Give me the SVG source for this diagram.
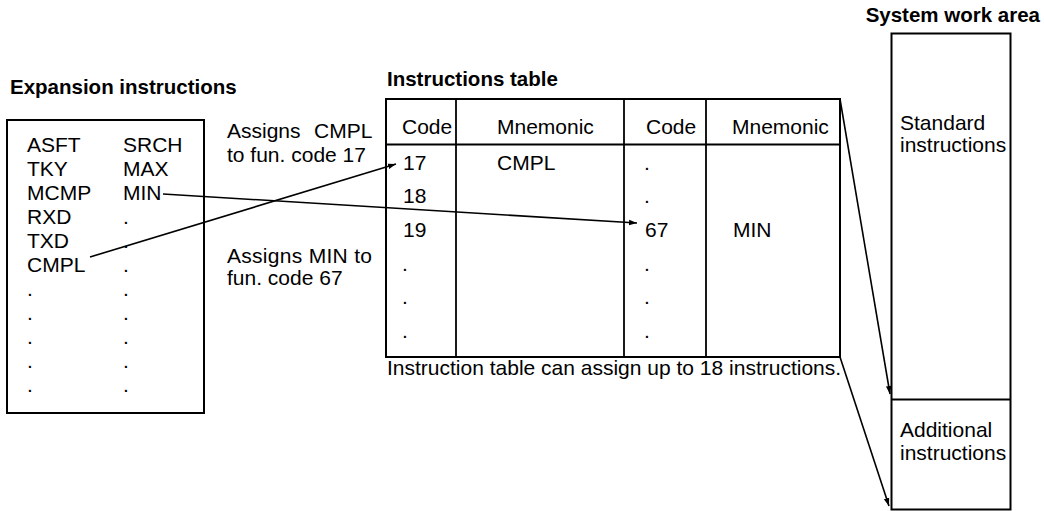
<svg xmlns="http://www.w3.org/2000/svg" width="1044" height="511" viewBox="0 0 1044 511">
<style>
text{font-family:"Liberation Sans",Arial,Helvetica,sans-serif;font-size:21px;fill:#000}
.t{font-weight:bold;font-size:20.5px}
.box{fill:#fff;stroke:#000;stroke-width:2}
.ln{fill:none;stroke:#000;stroke-width:1.8}
.con{fill:none;stroke:#000;stroke-width:1.6;marker-end:url(#ah)}
</style>
<defs>
<marker id="ah" viewBox="0 0 10 10" refX="10" refY="5" markerWidth="8" markerHeight="8" markerUnits="userSpaceOnUse" orient="auto">
<path d="M0,1.5 L10,5 L0,8.5 Z" fill="#000"/>
</marker>
</defs>
<rect width="1044" height="511" fill="#fff"/>

<g id="expansion">
<text class="t" x="10" y="94">Expansion instructions</text>
<rect class="box" x="7" y="120" width="197" height="293"/>
<text x="27" y="152">ASFT</text><text x="123" y="152">SRCH</text>
<text x="27" y="176">TKY</text><text x="123" y="176">MAX</text>
<text x="27" y="200">MCMP</text><text x="123" y="200">MIN</text>
<text x="27" y="224">RXD</text><text x="123" y="224">.</text>
<text x="27" y="248">TXD</text><text x="123" y="248">.</text>
<text x="27" y="272">CMPL</text><text x="123" y="272">.</text>
<text x="27" y="296">.</text><text x="123" y="296">.</text>
<text x="27" y="320">.</text><text x="123" y="320">.</text>
<text x="27" y="344">.</text><text x="123" y="344">.</text>
<text x="27" y="368">.</text><text x="123" y="368">.</text>
<text x="27" y="392">.</text><text x="123" y="392">.</text>
</g>

<g id="notes">
<text x="227" y="138">Assigns<tspan x="314">CMPL</tspan></text>
<text x="227" y="162">to fun. code 17</text>
<text x="227" y="263" textLength="145">Assigns MIN to</text>
<text x="227" y="285">fun. code 67</text>
</g>

<g id="table">
<text class="t" x="387" y="86">Instructions table</text>
<rect class="box" x="386" y="99" width="454" height="258"/>
<line class="ln" x1="386" y1="144.5" x2="840" y2="144.5"/>
<line class="ln" x1="456" y1="99" x2="456" y2="357"/>
<line class="ln" x1="624" y1="99" x2="624" y2="357"/>
<line class="ln" x1="706" y1="99" x2="706" y2="357"/>
<text x="402" y="134">Code</text>
<text x="497" y="134">Mnemonic</text>
<text x="646" y="134">Code</text>
<text x="732" y="134">Mnemonic</text>
<text x="403" y="170">17</text><text x="497" y="170">CMPL</text><text x="644" y="170">.</text>
<text x="403" y="203">18</text><text x="644" y="203">.</text>
<text x="403" y="237">19</text><text x="645" y="237">67</text><text x="733" y="237">MIN</text>
<text x="402" y="271">.</text><text x="644" y="271">.</text>
<text x="402" y="304">.</text><text x="644" y="304">.</text>
<text x="402" y="338">.</text><text x="644" y="338">.</text>
<text x="387" y="375">Instruction table can assign up to 18 instructions.</text>
</g>

<g id="system">
<text class="t" x="1040" y="22" text-anchor="end">System work area</text>
<rect class="box" x="891.5" y="33.5" width="119" height="476"/>
<line class="ln" x1="891.5" y1="399.5" x2="1010.5" y2="399.5"/>
<text x="900" y="130">Standard</text>
<text x="900" y="152">instructions</text>
<text x="900" y="437">Additional</text>
<text x="900" y="460">instructions</text>
</g>

<g id="connectors">
<line class="con" x1="90" y1="257" x2="396" y2="164"/>
<line class="con" x1="163" y1="194" x2="637" y2="223"/>
<line class="con" x1="840" y1="99" x2="890" y2="394"/>
<line class="con" x1="840" y1="357" x2="889" y2="506"/>
</g>
</svg>
